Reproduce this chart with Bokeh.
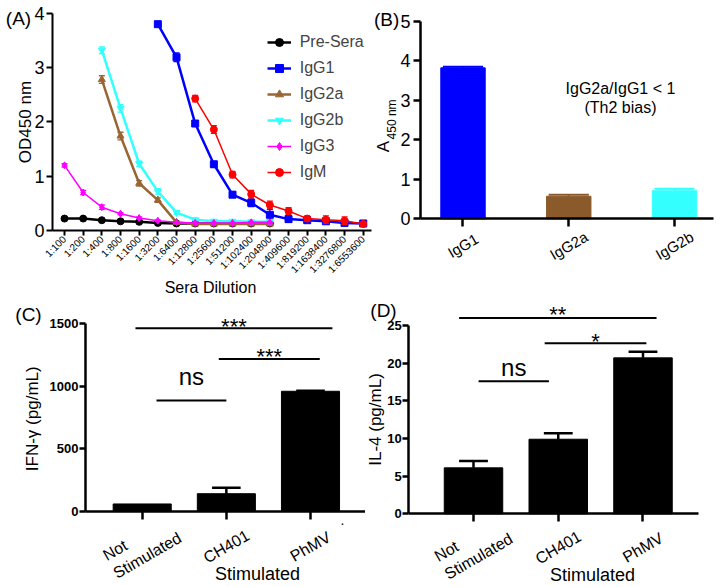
from math import pi
from bokeh.plotting import figure
from bokeh.models import Range1d, FixedTicker, Legend, LegendItem, Label, LabelSet, ColumnDataSource
from bokeh.layouts import column, row
from bokeh.embed import file_html
from bokeh.resources import INLINE
from bokeh.core.properties import value

FONT = "Liberation Sans"
nan = float("nan")

# ---------------- Panel A data ----------------
dilutions = ["1:100", "1:200", "1:400", "1:800", "1:1600", "1:3200", "1:6400", "1:12800",
             "1:25600", "1:51200", "1:102400", "1:204800", "1:409600", "1:819200",
             "1:1638400", "1:3276800", "1:6553600"]
pre_sera = [0.22, 0.22, 0.19, 0.17, 0.16, 0.14, 0.13, 0.13, 0.13, 0.13, 0.13, 0.13] + [nan] * 5
pre_sera_err = [0.01] * 12 + [nan] * 5
igg1 = [nan] * 5 + [3.80, 3.19, 1.97, 1.22, 0.66, 0.51, 0.29, 0.21, 0.19, 0.17, 0.14, 0.13]
igg1_err = [nan] * 5 + [0.04, 0.08, 0.05, 0.05, 0.05, 0.07, 0.10, 0.06, 0.04, 0.04, 0.04, 0.03]
igg2a = [nan] * 2 + [2.78, 1.74, 0.87, 0.56, 0.15, 0.12, 0.12, 0.12, 0.12, 0.12] + [nan] * 5
igg2a_err = [nan] * 2 + [0.07, 0.07, 0.05, 0.04, 0.02, 0.01, 0.01, 0.01, 0.01, 0.01] + [nan] * 5
igg2b = [nan] * 2 + [3.32, 2.25, 1.23, 0.72, 0.33, 0.20, 0.17, 0.17, 0.16, 0.16] + [nan] * 5
igg2b_err = [nan] * 2 + [0.06, 0.07, 0.05, 0.05, 0.03, 0.02, 0.01, 0.01, 0.01, 0.01] + [nan] * 5
igg3 = [1.20, 0.70, 0.43, 0.31, 0.23, 0.18, 0.15, 0.14, 0.14, 0.14, 0.15, 0.15] + [nan] * 5
igg3_err = [0.03, 0.04, 0.04, 0.02, 0.02, 0.01, 0.01, 0.01, 0.01, 0.01, 0.01, 0.01] + [nan] * 5
igm = [nan] * 7 + [2.43, 1.86, 1.03, 0.67, 0.47, 0.36, 0.22, 0.20, 0.18, 0.12]
igm_err = [nan] * 7 + [0.06, 0.07, 0.06, 0.07, 0.07, 0.06, 0.05, 0.07, 0.07, 0.03]

series_names = ["Pre-Sera", "IgG1", "IgG2a", "IgG2b", "IgG3", "IgM"]
series_vals = [pre_sera, igg1, igg2a, igg2b, igg3, igm]
series_errs = [pre_sera_err, igg1_err, igg2a_err, igg2b_err, igg3_err, igm_err]
series_colors = ["#000000", "#0000FF", "#996633", "#33FFFF", "#FF00FF", "#FF0000"]
series_markers = ["circle", "square", "triangle", "inverted_triangle", "diamond", "circle"]
series_lw = [2.5, 2.5, 2.5, 2.5, 1.5, 1.5]

# ---------------- Panel B data ----------------
isotypes = ["IgG1", "IgG2a", "IgG2b"]
iso_od = [3.82, 0.57, 0.71]
iso_err = [0.03, 0.04, 0.05]
iso_colors = ["#0000FF", "#8B5A2B", "#33FFFF"]

# ---------------- Panel C / D data ----------------
groups = ["Not\nStimulated", "CH401", "PhMV"]
ifn = [58, 140, 960]
ifn_err = [0, 48, 4]
il4 = [6.1, 9.9, 20.7]
il4_err = [0.9, 0.8, 0.8]
# significance brackets: (x start, x end, line y, text, text centre y)
ifn_sig = [(-0.08, 2.26, 1464, "***", 1482), (0.91, 2.11, 1219, "***", 1240), (0.17, 1.00, 886, "ns", 1076)]
il4_sig = [(-0.17, 2.16, 26.0, "**", 26.46), (0.84, 2.04, 22.65, "*", 22.90), (0.06, 0.89, 17.6, "ns", 19.39)]


def base_fig(w, h, xr, yr, xbounds, ybounds, lw=2.5, tick=7):
    p = figure(width=w, height=h, x_range=Range1d(*xr), y_range=Range1d(*yr),
               output_backend="svg", toolbar_location=None,
               min_border=0, min_border_left=0, min_border_right=0, min_border_top=0, min_border_bottom=0)
    p.xgrid.visible = False
    p.ygrid.visible = False
    p.outline_line_color = None
    for ax in (p.xaxis[0], p.yaxis[0]):
        ax.axis_line_color = "black"
        ax.axis_line_width = lw
        ax.major_tick_line_color = "black"
        ax.major_tick_line_width = lw
        ax.minor_tick_line_color = None
        ax.major_tick_in = 0
        ax.major_tick_out = tick
        ax.major_label_text_font = FONT
        ax.major_label_text_color = "black"
    p.xaxis.fixed_location = 0
    p.xaxis.bounds = xbounds
    p.yaxis.fixed_location = xbounds[0]
    p.yaxis.bounds = ybounds
    return p


def add_text(p, x, y, text, size, angle=0, align="center", baseline="middle", style="normal"):
    p.add_layout(Label(x=x, y=y, text=text, text_font=FONT, text_font_size=f"{size}px", angle=angle,
                       text_align=align, text_baseline=baseline, text_font_style=style,
                       text_color="black"))


# ======================= Panel A =======================
pA = base_fig(372, 298, (-3.428, 16.497), (-1.252, 4.236), (-0.643, 16.45), (0, 4), lw=2, tick=6)
pA.xaxis.ticker = FixedTicker(ticks=list(range(len(dilutions))))
pA.xaxis.major_label_overrides = {i: d for i, d in enumerate(dilutions)}
pA.xaxis.major_label_orientation = pi / 4
pA.xaxis.major_label_text_font_size = "10px"
pA.xaxis.major_label_standoff = 2
pA.xaxis.major_tick_out = 5
pA.yaxis.ticker = FixedTicker(ticks=[0, 1, 2, 3, 4])
pA.yaxis.major_label_text_font_size = "18px"
pA.yaxis.major_label_standoff = 2

legend_items = []
for name, vals, errs, col, mk, lw in zip(series_names, series_vals, series_errs, series_colors,
                                         series_markers, series_lw):
    xs = [i for i, v in enumerate(vals) if v == v]
    ys = [vals[i] for i in xs]
    es = [errs[i] for i in xs]
    src = ColumnDataSource(dict(x=xs, y=ys, lo=[y - e for y, e in zip(ys, es)],
                                hi=[y + e for y, e in zip(ys, es)],
                                cl=[x - 0.16 for x in xs], cr=[x + 0.16 for x in xs]))
    pA.segment(x0="x", y0="lo", x1="x", y1="hi", source=src, line_color=col, line_width=1.3)
    pA.segment(x0="cl", y0="hi", x1="cr", y1="hi", source=src, line_color=col, line_width=1.3)
    pA.segment(x0="cl", y0="lo", x1="cr", y1="lo", source=src, line_color=col, line_width=1.3)
    lr = pA.line("x", "y", source=src, line_color=col, line_width=lw)
    sr = pA.scatter("x", "y", source=src, marker=mk, size=7, fill_color=col, line_color=col)
    legend_items.append(LegendItem(label=name, renderers=[lr, sr]))

legA = Legend(items=legend_items, location=(266.7, 115.7), label_text_font=FONT, label_text_font_size="16px",
              glyph_width=24, glyph_height=20, label_height=20, spacing=6, padding=0, margin=0,
              label_standoff=9, border_line_color=None, background_fill_alpha=0)
pA.add_layout(legA)
add_text(pA, -2.464, 3.904, "(A)", 19)
add_text(pA, -2.089, 1.998, "OD450 nm", 17, angle=pi / 2)
add_text(pA, 7.82, -1.05, "Sera Dilution", 16)

# ======================= Panel B =======================
pB = base_fig(351, 298, (-0.8558, 2.4634), (-2.0167, 5.5238), (-0.402, 2.369), (0, 5), tick=7)
xB = list(range(len(isotypes)))
pB.vbar(x=xB, top=iso_od, width=0.42, fill_color=iso_colors, line_color=iso_colors)
srcB = ColumnDataSource(dict(x=xB, y=iso_od, hi=[v + e for v, e in zip(iso_od, iso_err)],
                             cl=[x - 0.19 for x in xB], cr=[x + 0.19 for x in xB], c=iso_colors))
pB.segment(x0="x", y0="y", x1="x", y1="hi", source=srcB, line_color="c", line_width=2)
pB.segment(x0="cl", y0="hi", x1="cr", y1="hi", source=srcB, line_color="c", line_width=2)
pB.xaxis.ticker = FixedTicker(ticks=xB)
pB.xaxis.major_label_overrides = {i: "" for i in xB}
pB.xaxis.major_label_text_font_size = "0px"
pB.xaxis.major_tick_out = 8
pB.yaxis.ticker = FixedTicker(ticks=[0, 1, 2, 3, 4, 5])
pB.yaxis.major_label_text_font_size = "18px"
pB.yaxis.major_label_standoff = 3
pB.add_layout(LabelSet(x="x", y="y", text="t", source=ColumnDataSource(dict(x=xB, y=[-0.676] * 3, t=isotypes)),
                       angle=pi / 6, text_align="center", text_baseline="middle",
                       text_font=value(FONT), text_font_size="15px", text_color="black"))
add_text(pB, 1.489, 3.297, "IgG2a/IgG1 < 1", 16)
add_text(pB, 1.489, 2.816, "(Th2 bias)", 16)
add_text(pB, -0.723, 5.043, "(B)", 19)
add_text(pB, -0.752, 1.829, "A", 17, angle=pi / 2)
add_text(pB, -0.667, 2.515, "450 nm", 12, angle=pi / 2)


def bar_panel(p, vals, errs, sig, ylab_pos, ylab, xlab_pos, cat_y, letter_pos, letter, cap):
    xs = list(range(len(groups)))
    p.vbar(x=xs, top=vals, width=0.69, fill_color="black", line_color="black")
    ex = [x for x, e in zip(xs, errs) if e > 0]
    ev = [v for v, e in zip(vals, errs) if e > 0]
    eh = [v + e for v, e in zip(vals, errs) if e > 0]
    src = ColumnDataSource(dict(x=ex, y=ev, hi=eh, cl=[x - cap for x in ex], cr=[x + cap for x in ex]))
    p.segment(x0="x", y0="y", x1="x", y1="hi", source=src, line_color="black", line_width=2.5)
    p.segment(x0="cl", y0="hi", x1="cr", y1="hi", source=src, line_color="black", line_width=2.5)
    for x0, x1, y, t, ty in sig:
        p.segment(x0=[x0], y0=[y], x1=[x1], y1=[y], line_color="black", line_width=2)
        add_text(p, (x0 + x1) / 2, ty, t, 24 if t == "ns" else 22)
    p.xaxis.ticker = FixedTicker(ticks=xs)
    p.xaxis.major_label_overrides = {i: "" for i in xs}
    p.xaxis.major_label_text_font_size = "0px"
    p.xaxis.major_tick_out = 8
    p.yaxis.major_label_text_font_size = "13px"
    p.yaxis.major_label_text_font_style = "bold"
    p.yaxis.major_label_standoff = 1
    p.yaxis.major_tick_out = 6
    p.add_layout(LabelSet(x="x", y="y", text="t",
                          source=ColumnDataSource(dict(x=xs, y=[cat_y] * len(xs), t=groups)),
                          angle=pi / 6, text_align="center", text_baseline="middle",
                          text_font=value(FONT), text_font_size="16px", text_color="black"))
    add_text(p, xlab_pos[0], xlab_pos[1], "Stimulated", 18)
    add_text(p, ylab_pos[0], ylab_pos[1], ylab, 17, angle=pi / 2)
    add_text(p, letter_pos[0], letter_pos[1], letter, 19)


# ======================= Panel C =======================
pC = base_fig(365, 288, (-1.6839, 2.6536), (-602.7, 1702.6), (-0.674, 2.654), (0, 1500))
pC.yaxis.ticker = FixedTicker(ticks=[0, 500, 1000, 1500])
bar_panel(pC, ifn, ifn_err, ifn_sig, (-1.304, 740), "IFN-\u03b3 (pg/mL)", (1.370, -498.7), -282.6,
          (-1.351, 1574.5), "(C)", 0.17)
add_text(pC, 2.38, -74, ".", 14)

# ======================= Panel D =======================
pD = base_fig(358, 288, (-1.2743, 2.9499), (-9.651, 28.58), (-0.763, 2.658), (0, 25))
pD.yaxis.ticker = FixedTicker(ticks=[0, 5, 10, 15, 20, 25])
bar_panel(pD, il4, il4_err, il4_sig, (-1.156, 12.52), "IL-4 (pg/mL)", (1.404, -8.19), -4.47,
          (-1.062, 27.05), "(D)", 0.17)

layout = column(row(pA, pB), row(pC, pD))
open("out.html", "w").write(file_html(layout, INLINE))
